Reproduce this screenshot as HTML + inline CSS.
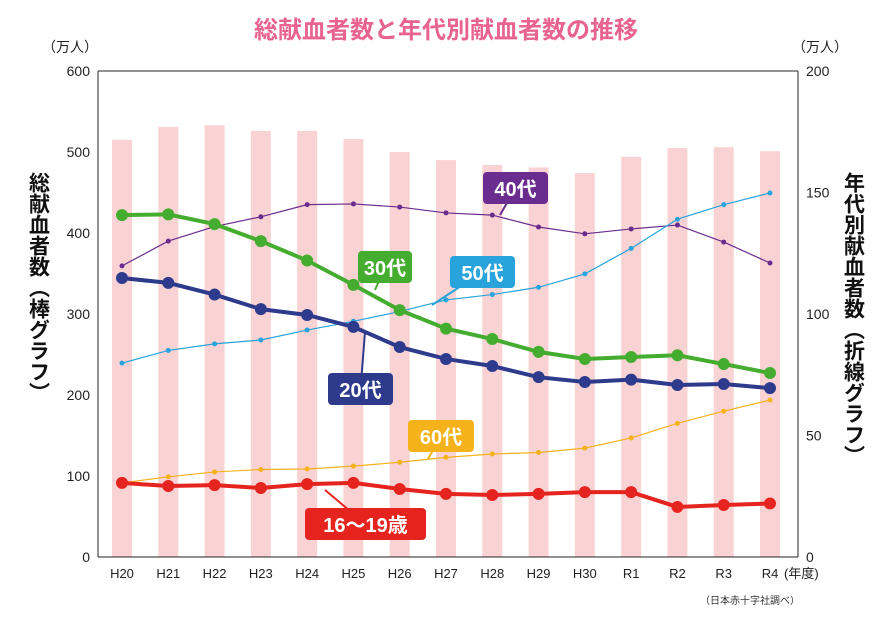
<!DOCTYPE html>
<html><head><meta charset="utf-8">
<style>
body{margin:0;background:#fff;width:893px;height:620px;overflow:hidden;font-family:"Liberation Sans","Noto Sans CJK JP",sans-serif;}
svg text{font-family:"Liberation Sans","Noto Sans CJK JP",sans-serif;}
</style></head>
<body>
<svg id="chart" width="893" height="620">
<text x="446" y="38" text-anchor="middle" font-size="24" font-weight="bold" fill="#e8638f">総献血者数と年代別献血者数の推移</text>
<text x="70" y="52" font-size="14" fill="#222" text-anchor="middle">（万人）</text>
<text x="820" y="52" font-size="14" fill="#222" text-anchor="middle">（万人）</text>
<text x="38" y="172" font-size="21" font-weight="bold" fill="#111" writing-mode="tb" style="writing-mode:vertical-rl">総献血者数（棒グラフ）</text>
<text x="853" y="172" font-size="21" font-weight="bold" fill="#111" style="writing-mode:vertical-rl">年代別献血者数（折線グラフ）</text>
<text x="800" y="604" font-size="10" fill="#333" text-anchor="end">（日本赤十字社調べ）</text>
<g id="bars"></g><g id="axes"></g><g id="lines"></g><g id="labels"></g>
</svg>
<script>
const categories=["H20","H21","H22","H23","H24","H25","H26","H27","H28","H29","H30","R1","R2","R3","R4"];
const totalDonors=[515,531,533,526,526,516,500,490,484,481,474,494,505,506,501];
const age30=[140.7,141,137,130,122,112,101.6,94,89.7,84.4,81.5,82.3,83,79.4,75.7];
const age20=[114.8,112.8,108,102,99.6,94.7,86.4,81.5,78.6,74,72,73,70.8,71.2,69.5];
const age40=[119.8,130,136,140,145,145.3,144,141.6,140.7,135.8,133,135,136.6,129.6,121];
const age50=[79.8,85,87.7,89.3,93.4,97,101,105.8,108,111,116.5,127,139,145,149.8];
const age60=[30.5,33,35,36,36.2,37.4,39,41,42.4,43,44.8,49,55,60,64.6];
const age16=[30.5,29.2,29.6,28.4,30,30.5,28,26,25.5,26,26.7,26.7,20.6,21.4,22];
const leftTicks=[0,100,200,300,400,500,600];
const rightTicks=[0,50,100,150,200];
const NS="http://www.w3.org/2000/svg";
const L=98,R=798,T=71,B=557;
const x0=122,step=(770-122)/14;
function xs(i){return x0+i*step;}
function yl(v){return B-(v/600)*(B-T);}
function yr(v){return B-(v/200)*(B-T);}
function mk(tag,attrs,parent,text){const e=document.createElementNS(NS,tag);for(const k in attrs)e.setAttribute(k,attrs[k]);if(text!==undefined)e.textContent=text;document.getElementById(parent).appendChild(e);return e;}
totalDonors.forEach((v,i)=>{const e=mk('rect',{x:xs(i)-10,y:yl(v),width:20,height:B-yl(v),fill:'#f9d3d3'},'bars');

});
let a=mk('line',{x1:L,y1:T,x2:R,y2:T,stroke:'#222','stroke-width':1},'axes');
a=mk('line',{x1:L,y1:T,x2:L,y2:B,stroke:'#222','stroke-width':1},'axes');
a=mk('line',{x1:R,y1:T,x2:R,y2:B,stroke:'#222','stroke-width':1},'axes');
a=mk('line',{x1:L,y1:B,x2:R,y2:B,stroke:'#222','stroke-width':1},'axes');
leftTicks.forEach(t=>{const e=mk('text',{x:L-8,y:yl(t)+5,'font-size':14,'text-anchor':'end',fill:'#222'},'axes',t);

});
rightTicks.forEach(t=>{const e=mk('text',{x:R+8,y:yr(t)+5,'font-size':14,'text-anchor':'start',fill:'#222'},'axes',t);

});
categories.forEach((c,i)=>{const e=mk('text',{x:xs(i),y:578,'font-size':13,'text-anchor':'middle',fill:'#222'},'axes',c);

});
a=mk('text',{x:784,y:578,'font-size':13,fill:'#222'},'axes','(年度)');
function series(data,color,w,r,name){const pts=data.map((v,i)=>xs(i)+','+yr(v)).join(' ');
const p=mk('polyline',{points:pts,fill:'none',stroke:color,'stroke-width':w},'lines');


data.forEach((v,i)=>{const c=mk('circle',{cx:xs(i),cy:yr(v),r:r,fill:color},'lines');

});}
series(age40,'#6a2c8e',1.2,2.5,'40s');
series(age50,'#29a3dc',1.2,2.5,'50s');
series(age60,'#f5b21b',1.2,2.5,'60s');
series(age30,'#44ad2f',4,6,'30s');
series(age20,'#2e3a8c',4,6,'20s');
series(age16,'#e52420',4,6,'16-19');
function label(txt,x,y,w,color,px,py,name){
mk('line',{x1:x+w/2,y1:y+16,x2:px,y2:py,stroke:color,'stroke-width':2},'labels');
const r=mk('rect',{x:x,y:y,width:w,height:32,rx:4,fill:color},'labels');


const t=mk('text',{x:x+w/2,y:y+24,'font-size':20,'font-weight':'bold','text-anchor':'middle',fill:'#fff'},'labels',txt);

}
label('40代',483,172,65,'#6a2c8e',500,215,'40s');
label('30代',358,251,54,'#44ad2f',375,290,'30s');
label('50代',450,256,65,'#29a3dc',432,305,'50s');
label('20代',328,373,65,'#2e3a8c',365,332,'20s');
label('60代',408,420,66,'#f5b21b',428,459,'60s');
label('16〜19歳',305,508,121,'#e52420',325,490,'16-19');
</script>
</body></html>
